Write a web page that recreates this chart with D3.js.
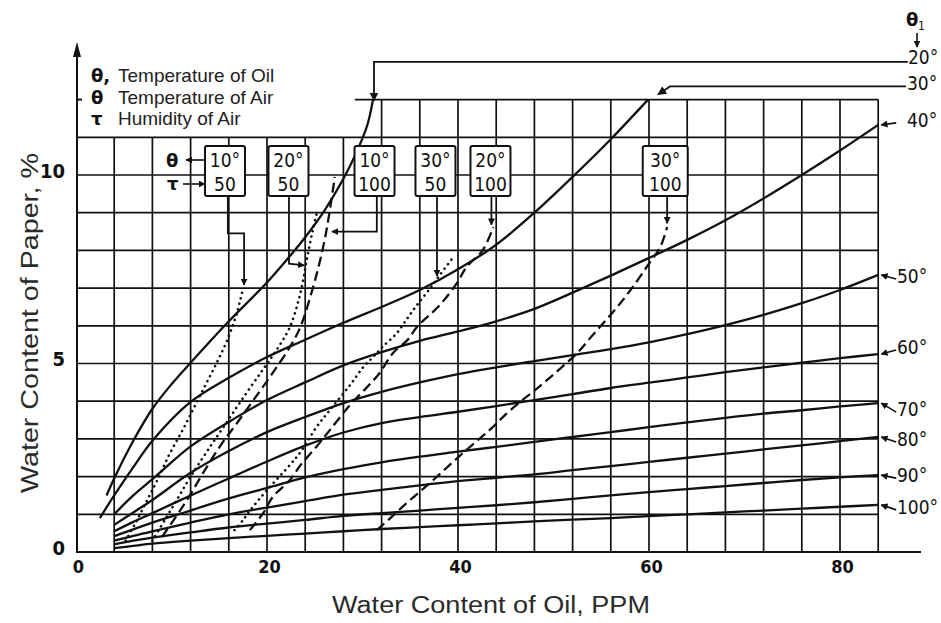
<!DOCTYPE html>
<html><head><meta charset="utf-8">
<script src="https://cdn.jsdelivr.net/npm/d3@7"></script>
<style>body{margin:0;background:#fff}svg{display:block}</style>
</head><body><svg id="c" width="941" height="623"></svg>
<script>
// ---------- data ----------
const xTicks = [0, 20, 40, 60, 80];
const yTicks = [0, 5, 10];
const oilTempLabels = ["20°","30°","40°","50°","60°","70°","80°","90°","100°"];
// solid curves: temperature of oil (PPM, %)
const oil20 = [[3.2,1.5],[4,1.95],[6,2.95],[8,3.8],[10,4.45],[12,5.02],[16,6.12],[20,7.15],[22.4,7.85],[24,8.35],[26,9.05],[28,9.9],[29.4,10.62],[30.5,11.32],[31.1,12.0]];
const oil30 = [[2.5,0.9],[4,1.5],[6,2.25],[8,2.95],[12,3.98],[16,4.62],[20,5.17],[24,5.63],[28,6.08],[32,6.5],[36,6.95],[40,7.5],[44,8.15],[48,9.0],[52,9.95],[56,10.95],[59.9,12.0]];
const oil40 = [[4,1.0],[6,1.5],[8,1.93],[12,2.8],[16,3.45],[20,4.03],[24,4.5],[28,4.95],[32,5.3],[36,5.6],[40,5.85],[44,6.12],[48,6.45],[52,6.88],[56,7.33],[60,7.8],[64,8.28],[68,8.8],[72,9.38],[76,10.0],[80,10.65],[84,11.33]];
const oil50 = [[4,0.72],[6,1.05],[8,1.38],[12,2.1],[16,2.68],[20,3.18],[24,3.58],[28,3.95],[32,4.25],[36,4.5],[40,4.72],[44,4.9],[48,5.06],[52,5.22],[56,5.38],[60,5.56],[64,5.78],[68,6.02],[72,6.29],[76,6.6],[80,6.95],[84,7.35]];
const oil60 = [[4,0.55],[6,0.8],[8,1.03],[12,1.5],[16,1.95],[20,2.4],[24,2.82],[28,3.17],[32,3.42],[36,3.58],[40,3.72],[44,3.87],[48,4.03],[52,4.19],[56,4.35],[60,4.49],[64,4.63],[68,4.77],[72,4.9],[76,5.02],[80,5.14],[84,5.25]];
const oil70 = [[4,0.42],[6,0.6],[8,0.78],[12,1.1],[16,1.42],[20,1.7],[24,1.98],[28,2.2],[32,2.38],[36,2.53],[40,2.66],[44,2.79],[48,2.92],[52,3.05],[56,3.18],[60,3.31],[64,3.44],[68,3.56],[72,3.67],[76,3.76],[80,3.86],[84,3.95]];
const oil80 = [[4,0.3],[6,0.43],[8,0.55],[12,0.78],[16,1.0],[20,1.18],[24,1.35],[28,1.52],[32,1.65],[36,1.77],[40,1.88],[44,1.97],[48,2.06],[52,2.17],[56,2.28],[60,2.39],[64,2.5],[68,2.61],[72,2.72],[76,2.83],[80,2.94],[84,3.05]];
const oil90 = [[4,0.2],[6,0.3],[8,0.38],[12,0.52],[16,0.65],[20,0.75],[24,0.85],[28,0.96],[32,1.03],[36,1.1],[40,1.17],[44,1.24],[48,1.32],[52,1.41],[56,1.5],[60,1.59],[64,1.67],[68,1.75],[72,1.83],[76,1.91],[80,1.98],[84,2.04]];
const oil100 = [[4,0.1],[6,0.16],[8,0.22],[12,0.3],[16,0.37],[20,0.43],[24,0.49],[28,0.55],[32,0.61],[36,0.66],[40,0.71],[44,0.76],[48,0.81],[52,0.86],[56,0.9],[60,0.95],[64,1.0],[68,1.05],[72,1.1],[76,1.15],[80,1.2],[84,1.25]];
// air condition curves (dotted: humidity 50, dashed: humidity 100)
const air10h50 = [[5.2,0.3],[6.3,0.8],[7.4,1.35],[8.5,1.9],[9.8,2.6],[11.2,3.25],[12.4,3.85],[13.6,4.45],[14.8,5.05],[15.8,5.6],[16.8,6.3],[17.5,7.0]];
const air20h50 = [[8,0.3],[9.3,0.85],[10.6,1.4],[12,2.0],[13.8,2.7],[15.8,3.45],[17.8,4.2],[19.6,4.85],[21,5.36],[22.4,5.97],[23.5,6.87],[24.2,7.8],[24.8,8.54],[25.3,9.07]];
const air10h100 = [[9,0.4],[10.5,0.95],[11.8,1.45],[13.2,2.05],[15.2,2.85],[16.8,3.4],[18.5,4.0],[20.6,4.75],[22.4,5.44],[23.5,5.97],[24.8,7.0],[25.5,7.67],[26.1,8.36],[26.6,9.1],[27.1,9.95]];
const air30h50 = [[16.6,0.58],[17.5,0.85],[18.5,1.19],[20,1.64],[22.4,2.31],[23.5,2.65],[25.2,3.32],[26.6,3.77],[28.7,4.43],[30.1,4.91],[31.1,5.17],[32.1,5.44],[33.6,5.81],[34.7,6.2],[35.7,6.55],[37.1,7.0],[38.1,7.35],[39.5,7.82]];
const air20h100 = [[18.2,0.58],[19.6,1.03],[20.6,1.46],[22.4,1.91],[23.5,2.3],[25.2,2.8],[26.6,3.24],[28.7,3.9],[30.5,4.38],[31.8,4.75],[33.2,5.28],[34.7,5.62],[35.7,5.97],[38.1,6.55],[39.9,7.14],[40.9,7.56],[42.6,8.01],[43.7,8.62]];
const air30h100 = [[31.5,0.58],[33,0.92],[34.5,1.27],[36,1.6],[37.5,1.93],[39,2.28],[40.5,2.62],[42,2.95],[43.5,3.28],[45,3.65],[46.5,3.98],[48,4.28],[49.5,4.6],[51,4.93],[52.5,5.28],[54,5.72],[55.5,6.15],[57,6.6],[58.5,7.1],[60,7.65],[61.2,8.1],[61.9,8.62]];
const boxAirTemp = ["10°","20°","10°","30°","20°","30°"];
const boxHumidity = ["50","50","100","50","100","100"];
const boxAnchorPPM = [15.6, 22.25, 31.26, 37.64, 43.4, 61.7];

// ---------- setup ----------
const svg = d3.select("#c");
const x = d3.scaleLinear().domain([0, 80]).range([76, 840]);
const y = d3.scaleLinear().domain([0, 12]).range([552, 99.6]);
const INK = "#111";
const numFont = "'Liberation Sans Narrow','DejaVu Sans Condensed',sans-serif";

const defs = svg.append("defs");
defs.append("marker").attr("id","ah").attr("viewBox","0 0 10 10").attr("refX",9).attr("refY",5)
  .attr("markerWidth",7).attr("markerHeight",7).attr("markerUnits","userSpaceOnUse").attr("orient","auto")
  .append("path").attr("d","M0,0 L10,5 L0,10 Z").attr("fill",INK);
defs.append("marker").attr("id","ahBig").attr("viewBox","0 0 10 10").attr("refX",9).attr("refY",5)
  .attr("markerWidth",9).attr("markerHeight",9).attr("markerUnits","userSpaceOnUse").attr("orient","auto")
  .append("path").attr("d","M0,0 L10,5 L0,10 Z").attr("fill",INK);

// ---------- grid ----------
const grid = svg.append("g").attr("stroke", INK).attr("stroke-width", 1.7).attr("fill","none");
d3.range(4, 85, 4).forEach(v => {
  grid.append("line").attr("x1", x(v)).attr("x2", x(v)).attr("y1", y(0)).attr("y2", v >= 32 ? y(12) : y(11));
});
d3.range(1, 12).forEach(v => {
  grid.append("line").attr("x1", x(0)).attr("x2", x(84)).attr("y1", y(v)).attr("y2", y(v));
});
grid.append("line").attr("x1", x(29.2)).attr("x2", x(84)).attr("y1", y(12)).attr("y2", y(12));

// axes lines
svg.append("line").attr("x1", x(0)).attr("x2", 921).attr("y1", y(0)).attr("y2", y(0)).attr("stroke", INK).attr("stroke-width", 2);
svg.append("line").attr("x1", x(0)+1).attr("x2", x(0)+1).attr("y1", y(0)).attr("y2", 50).attr("stroke", INK).attr("stroke-width", 2);
svg.append("path").attr("d", `M${x(0)+1},42 L${x(0)-3},57 L${x(0)+5},57 Z`).attr("fill", INK);
svg.append("line").attr("x1", x(0)).attr("x2", x(0)+6).attr("y1", y(12)).attr("y2", y(12)).attr("stroke", INK).attr("stroke-width", 2);

// tick labels via d3 axes
const gx = svg.append("g").attr("transform", `translate(2,${y(0)+4})`)
  .call(d3.axisBottom(x).tickValues(xTicks).tickSize(0).tickPadding(4).tickFormat(d3.format("d")));
gx.select(".domain").remove();
gx.selectAll("text").attr("font-family", numFont).attr("font-size", 18).attr("font-weight","bold").attr("fill", INK);
const gy = svg.append("g").attr("transform", `translate(65,-4)`)
  .call(d3.axisLeft(y).tickValues(yTicks).tickSize(0).tickPadding(0).tickFormat(d3.format("d")));
gy.select(".domain").remove();
gy.selectAll("text").attr("font-family", numFont).attr("font-size", 20).attr("font-weight","bold").attr("fill", INK);

// ---------- curves ----------
const line = d3.line().x(d => x(d[0])).y(d => y(d[1])).curve(d3.curveCatmullRom.alpha(0.5));
const oilSeries = [oil20, oil30, oil40, oil50, oil60, oil70, oil80, oil90, oil100];
svg.append("g").selectAll("path").data(oilSeries).join("path")
  .attr("d", line).attr("fill","none").attr("stroke", INK).attr("stroke-width", 2.3);

const dotted = [air10h50, air20h50, air30h50];
const dashed = [air10h100, air20h100, air30h100];
svg.append("g").selectAll("path").data(dotted).join("path")
  .attr("d", line).attr("fill","none").attr("stroke", INK).attr("stroke-width", 2.6)
  .attr("stroke-linecap","round").attr("stroke-dasharray","0.1 5.5");
svg.append("g").selectAll("path").data(dashed).join("path")
  .attr("d", line).attr("fill","none").attr("stroke", INK).attr("stroke-width", 2.3)
  .attr("stroke-dasharray","10 5");

// ---------- boxes & leaders ----------
const boxTop = 146, boxH = 50;
const leaders = [
  [[15.9, 9.44],[15.9, 8.45],[17.6, 8.45],[17.6, 7.08]],
  [[22.3, 9.44],[22.3, 7.65],[23.9, 7.6]],
  [[31.5, 9.44],[31.5, 8.5],[26.8, 8.5]],
  [[37.8, 9.44],[37.8, 7.32]],
  [[43.5, 9.44],[43.5, 8.68]],
  [[61.9, 9.44],[61.9, 8.72]]
];
const lg = svg.append("g");
leaders.forEach(pts => {
  lg.append("path").attr("d", d3.line().x(d=>x(d[0])).y(d=>y(d[1])).curve(d3.curveLinear)(pts))
    .attr("fill","none").attr("stroke", INK).attr("stroke-width", 1.8).attr("marker-end","url(#ah)");
});
const bg = svg.append("g");
boxAirTemp.forEach((t, i) => {
  const cx = x(boxAnchorPPM[i]);
  const w = i === 5 ? 45 : 40;
  bg.append("rect").attr("x", cx - w/2).attr("y", boxTop).attr("width", w).attr("height", boxH)
    .attr("rx", 2).attr("fill", "#fff").attr("stroke", INK).attr("stroke-width", 2);
  bg.append("text").attr("x", cx).attr("y", boxTop + 21).attr("text-anchor","middle")
    .attr("font-family", numFont).attr("font-size", 19).attr("fill", INK).text(t);
  bg.append("text").attr("x", cx).attr("y", boxTop + 45).attr("text-anchor","middle")
    .attr("font-family", numFont).attr("font-size", 19).attr("fill", INK).text(boxHumidity[i]);
});
// theta / tau row labels
svg.append("text").attr("x", 166).attr("y", 167).attr("font-family","'DejaVu Sans',sans-serif").attr("font-weight","bold").attr("font-size", 18).attr("fill", INK).text("θ");
svg.append("text").attr("x", 167).attr("y", 190).attr("font-family","'DejaVu Sans',sans-serif").attr("font-weight","bold").attr("font-size", 18).attr("fill", INK).text("τ");
svg.append("line").attr("x1", 205).attr("x2", 186).attr("y1", 160).attr("y2", 160).attr("stroke", INK).attr("stroke-width", 1.6).attr("marker-end","url(#ah)");
svg.append("line").attr("x1", 183).attr("x2", 205).attr("y1", 184).attr("y2", 184).attr("stroke", INK).attr("stroke-width", 1.6).attr("marker-end","url(#ah)");

// ---------- oil temperature labels (right) ----------
const rl = svg.append("g").attr("font-family", numFont).attr("font-size", 19).attr("fill", INK);
const ends = oilSeries.map(s => s[s.length - 1]);
// theta1 header
rl.append("text").attr("x", 906).attr("y", 26).attr("font-family","'DejaVu Sans',sans-serif").attr("font-weight","bold").attr("font-size", 18).text("θ");
rl.append("text").attr("x", 918).attr("y", 30).attr("font-size", 12).text("1");
svg.append("line").attr("x1", 917).attr("x2", 917).attr("y1", 33).attr("y2", 47).attr("stroke", INK).attr("stroke-width", 1.6).attr("marker-end","url(#ah)");
// 20°
svg.append("path").attr("d", `M${x(87.1)},${y(13)} L${x(ends[0][0])+1},${y(13)} L${x(ends[0][0])+1},${y(12)+1}`)
  .attr("fill","none").attr("stroke", INK).attr("stroke-width", 1.8).attr("marker-end","url(#ahBig)");
rl.append("text").attr("x", 908).attr("y", y(13)+2).text(oilTempLabels[0]);
// 30°
svg.append("path").attr("d", `M${x(86.9)},${y(12.35)} L${x(62.2)},${y(12.35)} L${x(ends[1][0])+10},${y(12)-5}`)
  .attr("fill","none").attr("stroke", INK).attr("stroke-width", 1.8).attr("marker-end","url(#ahBig)");
rl.append("text").attr("x", 907).attr("y", y(12.35)+4).text(oilTempLabels[1]);
// 40° .. 100°
const labelDy = [0, 0, -4, 2, -6, 7, 3, 1, 3];
for (let i = 2; i < oilSeries.length; i++) {
  const ex = x(ends[i][0]), ey = y(ends[i][1]);
  const ly = ey + labelDy[i];
  svg.append("path").attr("d", `M${ex+18},${ly+2} L${ex+3},${ey}`)
    .attr("fill","none").attr("stroke", INK).attr("stroke-width", 1.6).attr("marker-end","url(#ah)");
  rl.append("text").attr("x", i === 2 ? 907 : 897).attr("y", ly + 6).text(oilTempLabels[i]);
}

// ---------- legend ----------
const leg = svg.append("g").attr("fill", "#222");
const legSym = ["θ,", "θ", "τ"];
const legText = ["Temperature of Oil", "Temperature of Air", "Humidity of Air"];
const legY = [82, 103.5, 125];
legSym.forEach((s, i) => {
  leg.append("text").attr("x", 91).attr("y", legY[i]).attr("font-family","'DejaVu Sans',sans-serif")
    .attr("font-weight","bold").attr("font-size", 18).attr("fill", INK).text(s);
  leg.append("text").attr("x", 118).attr("y", legY[i]).attr("font-family","'Liberation Sans',Arial,sans-serif")
    .attr("font-size", 19).text(legText[i]);
});

// ---------- axis titles ----------
svg.append("text").attr("x", 332).attr("y", 613).attr("font-family","'Liberation Sans',Arial,sans-serif")
  .attr("font-size", 23).attr("fill", "#2b2b2b").attr("textLength", 318).attr("lengthAdjust","spacingAndGlyphs")
  .text("Water Content of Oil, PPM");
svg.append("text").attr("transform", "translate(38,493) rotate(-90)").attr("font-family","'Liberation Sans',Arial,sans-serif")
  .attr("font-size", 23).attr("fill", "#2b2b2b").attr("textLength", 340).attr("lengthAdjust","spacingAndGlyphs")
  .text("Water Content of Paper, %");
</script></body></html>
